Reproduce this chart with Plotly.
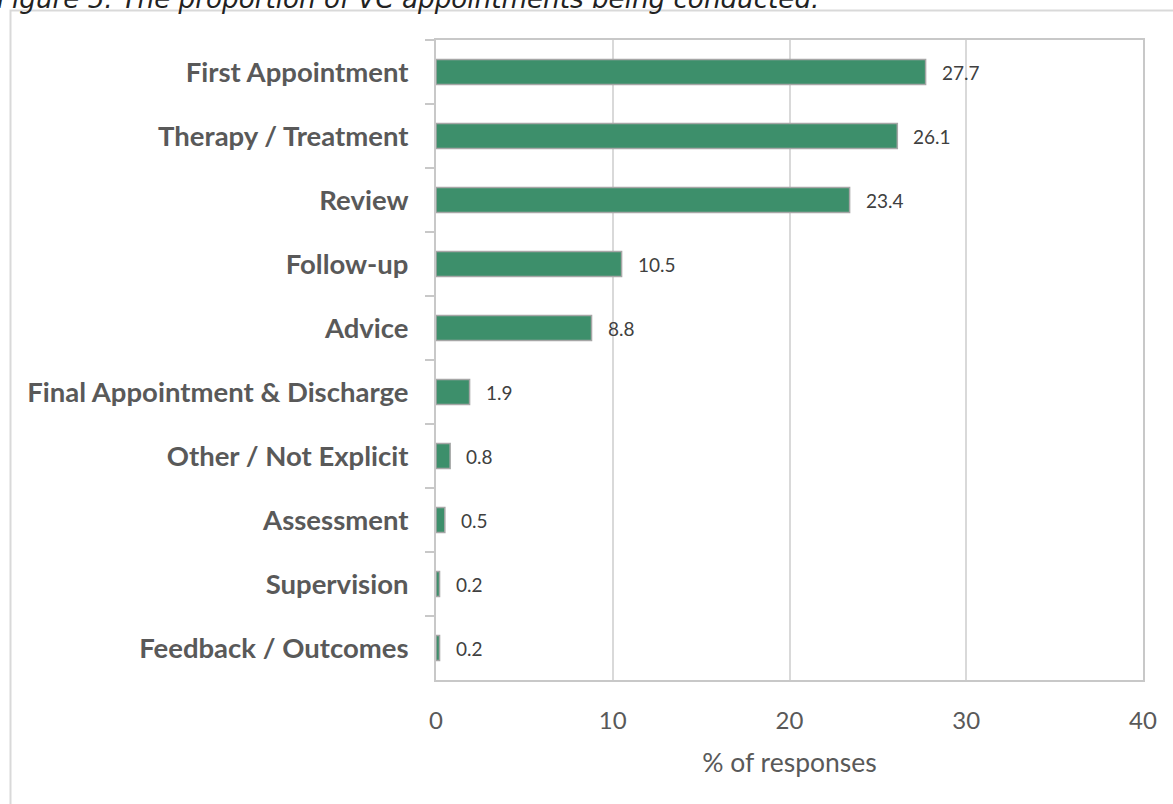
import plotly.graph_objects as go

# Appointment types and share of responses (%)
categories = [
    "First Appointment",
    "Therapy / Treatment",
    "Review",
    "Follow-up",
    "Advice",
    "Final Appointment & Discharge",
    "Other / Not Explicit",
    "Assessment",
    "Supervision",
    "Feedback / Outcomes",
]
values = [27.7, 26.1, 23.4, 10.5, 8.8, 1.9, 0.8, 0.5, 0.2, 0.2]
x_ticks = [0, 10, 20, 30, 40]

W, H = 1173, 804
L, R, T, B = 436, 30, 40, 124
PW, PH = W - L - R, H - T - B


def px_x(px):
    return (px - L) / PW


def px_y(py):
    return (H - B - py) / PH


BAR_GREEN = "#3D8F6B"
TEXT_GREY = "#595959"
FONT = "Lato, Carlito, sans-serif"

fig = go.Figure()
fig.add_trace(
    go.Bar(
        x=values,
        y=categories,
        orientation="h",
        marker=dict(color=BAR_GREEN, line=dict(color="#A6A6A6", width=1.5)),
        hoverinfo="x+y",
    )
)

# value labels to the right of each bar
for cat, val in zip(categories, values):
    fig.add_annotation(
        x=val, y=cat, xref="x", yref="y",
        text=f"{val:.1f}", showarrow=False,
        xanchor="left", yanchor="middle", xshift=14,
        font=dict(family=FONT, size=19, color="#404040"),
    )

# figure caption (runs off the top edge of the page)
fig.add_annotation(
    x=px_x(-5), y=px_y(16), xref="paper", yref="paper",
    text="<i>Figure 5: The proportion of VC appointments being conducted.</i>",
    showarrow=False, xanchor="left", yanchor="bottom",
    font=dict(family="DejaVu Sans, sans-serif", size=26.2, color="#222222"),
)

# outer frame around the chart object
fig.add_shape(
    type="rect", xref="paper", yref="paper",
    x0=px_x(10.5), y0=px_y(H + 50), x1=px_x(W + 50), y1=px_y(10.5),
    line=dict(color="#D9D9D9", width=2), fillcolor="rgba(0,0,0,0)", layer="below",
)

fig.update_layout(
    width=W, height=H,
    margin=dict(l=L, r=R, t=T, b=B, pad=0),
    paper_bgcolor="white", plot_bgcolor="white",
    bargap=0.61,
    showlegend=False,
    font=dict(family=FONT, color=TEXT_GREY),
    xaxis=dict(
        range=[0, 40], tickvals=x_ticks, ticktext=[str(v) for v in x_ticks],
        showgrid=True, gridcolor="#D9D9D9", gridwidth=1.5,
        showline=True, linecolor="#C8C8C8", linewidth=2, mirror=True,
        zeroline=False, ticks="",
        tickfont=dict(family=FONT, size=24, color=TEXT_GREY),
        ticklabelstandoff=18,
        title=dict(text="% of responses", standoff=21,
                   font=dict(family=FONT, size=26.5, color=TEXT_GREY)),
    ),
    yaxis=dict(
        categoryorder="array", categoryarray=categories, autorange="reversed",
        showline=True, linecolor="#C8C8C8", linewidth=2, mirror=True,
        showgrid=False, zeroline=False,
        ticks="outside", tickson="boundaries", ticklen=9, tickcolor="#C8C8C8",
        tickwidth=1.5,
        ticklabelstandoff=20,
        tickfont=dict(family=FONT, size=27.5, color=TEXT_GREY, weight="bold"),
    ),
)

fig.write_html("out.html")
